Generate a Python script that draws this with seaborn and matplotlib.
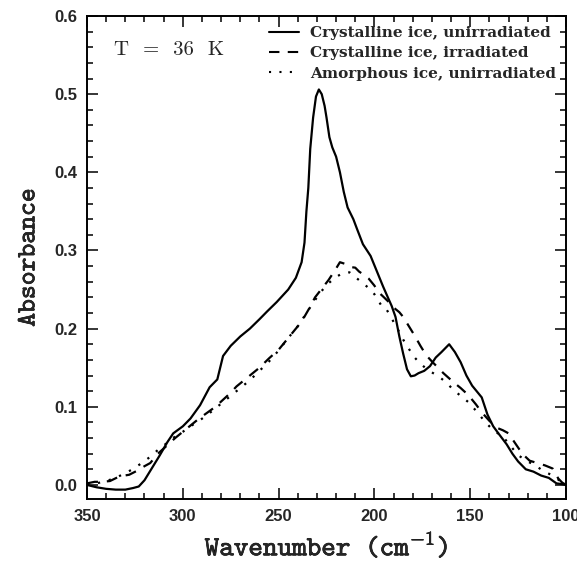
import matplotlib
matplotlib.use("Agg")
import matplotlib.pyplot as plt
import matplotlib.patheffects as pe
from matplotlib.ticker import MultipleLocator, FormatStrFormatter
from matplotlib.lines import Line2D
import seaborn as sns
import pandas as pd

# Far-infrared absorbance spectra of water ice at 36 K
wn_cryst = [350, 345, 340, 335, 330, 326, 323, 320, 316, 312, 308, 305, 300, 296, 291, 286,
            282, 279, 275, 270, 265, 260, 256, 251, 245, 241, 238, 236.5, 235.5, 234.5, 233.5,
            232, 230.5, 229, 227.5, 226, 225, 223.5, 222, 220, 218, 216, 214, 211, 209, 206,
            202, 199, 195.5, 193, 191, 189, 187, 185, 183, 181, 179, 177, 174, 171, 168, 165,
            161, 158, 155, 152, 149, 146, 144, 141, 138, 135, 131, 128, 125, 121, 117, 113,
            109, 105, 102, 100]
abs_cryst = [0.000, -0.003, -0.005, -0.006, -0.006, -0.004, -0.002, 0.006, 0.022, 0.038, 0.055,
             0.066, 0.075, 0.085, 0.102, 0.125, 0.135, 0.165, 0.178, 0.190, 0.200, 0.212, 0.222,
             0.234, 0.250, 0.265, 0.285, 0.310, 0.350, 0.380, 0.430, 0.470, 0.497, 0.506, 0.500,
             0.485, 0.470, 0.445, 0.432, 0.420, 0.400, 0.375, 0.355, 0.340, 0.327, 0.308, 0.293,
             0.275, 0.254, 0.240, 0.229, 0.215, 0.190, 0.168, 0.148, 0.139, 0.140, 0.143, 0.146,
             0.152, 0.163, 0.170, 0.180, 0.170, 0.157, 0.140, 0.127, 0.118, 0.112, 0.090, 0.075,
             0.065, 0.052, 0.040, 0.030, 0.020, 0.017, 0.012, 0.009, 0.002, 0.001, 0.000]

wn_irr = [350, 346, 342, 338, 333, 328, 324, 320, 317, 313, 308, 304, 300, 296, 292, 287.5,
          283, 279, 275, 272, 268, 264, 260, 255, 250, 246, 242, 238, 234, 231, 227.5, 224,
          220.5, 218, 215.5, 213, 210, 208, 205, 203, 200, 198, 195, 192.5, 190, 187, 185,
          182, 179, 176, 173, 170, 168, 164, 159, 155, 151, 147, 144, 140, 136, 133, 130, 127,
          124.5, 122, 119, 115, 111, 107, 104, 102, 100]
abs_irr = [0.002, 0.004, 0.004, 0.005, 0.011, 0.013, 0.018, 0.024, 0.028, 0.040, 0.051, 0.060,
           0.068, 0.076, 0.084, 0.092, 0.100, 0.109, 0.118, 0.126, 0.134, 0.142, 0.150, 0.162,
           0.173, 0.185, 0.197, 0.209, 0.226, 0.240, 0.251, 0.262, 0.275, 0.285, 0.283, 0.279,
           0.278, 0.273, 0.268, 0.264, 0.255, 0.247, 0.240, 0.234, 0.227, 0.221, 0.215, 0.203,
           0.191, 0.178, 0.166, 0.158, 0.153, 0.143, 0.132, 0.124, 0.115, 0.103, 0.093, 0.082,
           0.073, 0.070, 0.066, 0.055, 0.046, 0.038, 0.031, 0.028, 0.025, 0.021, 0.008, 0.003,
           0.000]

wn_amor = [350, 345, 340, 335, 331, 327, 322, 317, 312, 308, 304, 300, 296, 291, 287, 283,
           279, 275, 270, 265, 260, 255, 250, 245, 240, 236, 232, 228, 224, 220, 216, 213,
           210, 207, 203, 200, 196, 194, 191, 188, 185, 182, 179, 176, 173, 170, 166, 162,
           159, 155, 151, 147, 142, 138, 133, 129, 125, 120, 116, 112, 107, 103, 100]
abs_amor = [0.000, 0.002, 0.005, 0.009, 0.014, 0.019, 0.027, 0.036, 0.047, 0.054, 0.062, 0.068,
            0.075, 0.083, 0.090, 0.098, 0.106, 0.114, 0.124, 0.134, 0.146, 0.158, 0.172, 0.188,
            0.203, 0.218, 0.233, 0.247, 0.258, 0.266, 0.272, 0.272, 0.266, 0.260, 0.252, 0.244,
            0.228, 0.226, 0.213, 0.200, 0.186, 0.174, 0.163, 0.155, 0.149, 0.144, 0.138, 0.130,
            0.122, 0.114, 0.106, 0.095, 0.080, 0.070, 0.062, 0.050, 0.038, 0.030, 0.025, 0.018,
            0.012, 0.005, 0.000]

series_labels = ["Crystalline ice, unirradiated",
                 "Crystalline ice, irradiated",
                 "Amorphous ice, unirradiated"]
x_ticks = [350, 300, 250, 200, 150, 100]
y_ticks = [0.0, 0.1, 0.2, 0.3, 0.4, 0.5, 0.6]

sns.set_style("ticks")
plt.rcParams["mathtext.fontset"] = "cm"

fig = plt.figure(figsize=(5.77, 5.62), dpi=100)
ax = fig.add_axes([0.1508, 0.1121, 0.8302, 0.8594])

styles = ["-", (0, (5, 4)), (0, (1, 4))]
frames = [pd.DataFrame({"wn": w, "A": a}) for w, a in
          [(wn_cryst, abs_cryst), (wn_irr, abs_irr), (wn_amor, abs_amor)]]
for df, ls, lab in zip(frames, styles, series_labels):
    sns.lineplot(data=df, x="wn", y="A", ax=ax, color="black", linewidth=1.6,
                 linestyle=ls, sort=False, estimator=None, label=lab)

ax.set_xlim(350, 100)
ax.set_ylim(-0.018, 0.6)
ax.set_xticks(x_ticks)
ax.set_yticks(y_ticks)
ax.xaxis.set_minor_locator(MultipleLocator(10))
ax.yaxis.set_minor_locator(MultipleLocator(0.02))
ax.yaxis.set_major_formatter(FormatStrFormatter("%.1f"))
ax.tick_params(which="both", direction="in", top=True, right=True, width=1.1, color="black")
ax.tick_params(which="major", length=8)
ax.tick_params(which="minor", length=4)
ax.tick_params(axis="x", which="major", pad=7)
ax.tick_params(axis="y", which="major", pad=7)
for lbl in ax.get_xticklabels() + ax.get_yticklabels():
    lbl.set_fontfamily("Liberation Sans")
    lbl.set_fontweight("bold")
    lbl.set_fontsize(12)
for sp in ax.spines.values():
    sp.set_linewidth(1.4)
    sp.set_color("black")

heavy = [pe.withStroke(linewidth=0.45, foreground="black")]
ax.set_xlabel("Wavenumber (cm$^{-1}$)", fontfamily="cmtt10", fontsize=20, labelpad=5,
              path_effects=heavy)
ax.set_ylabel("Absorbance", fontfamily="cmtt10", fontsize=19, labelpad=10,
              path_effects=heavy)

ax.text(0.056, 0.93, "T  =  36  K", transform=ax.transAxes, fontfamily="cmr10",
        fontsize=15, ha="left", va="center")

handles = [Line2D([], [], color="black", linewidth=1.5, linestyle=s) for s in styles]
ax.legend(handles, series_labels, loc="upper right", frameon=False,
          prop={"family": "DejaVu Serif", "weight": "bold", "size": 11},
          handlelength=2.0, handletextpad=0.7, labelspacing=0.42, borderaxespad=0.25)

fig.savefig("out.png", dpi=100)
